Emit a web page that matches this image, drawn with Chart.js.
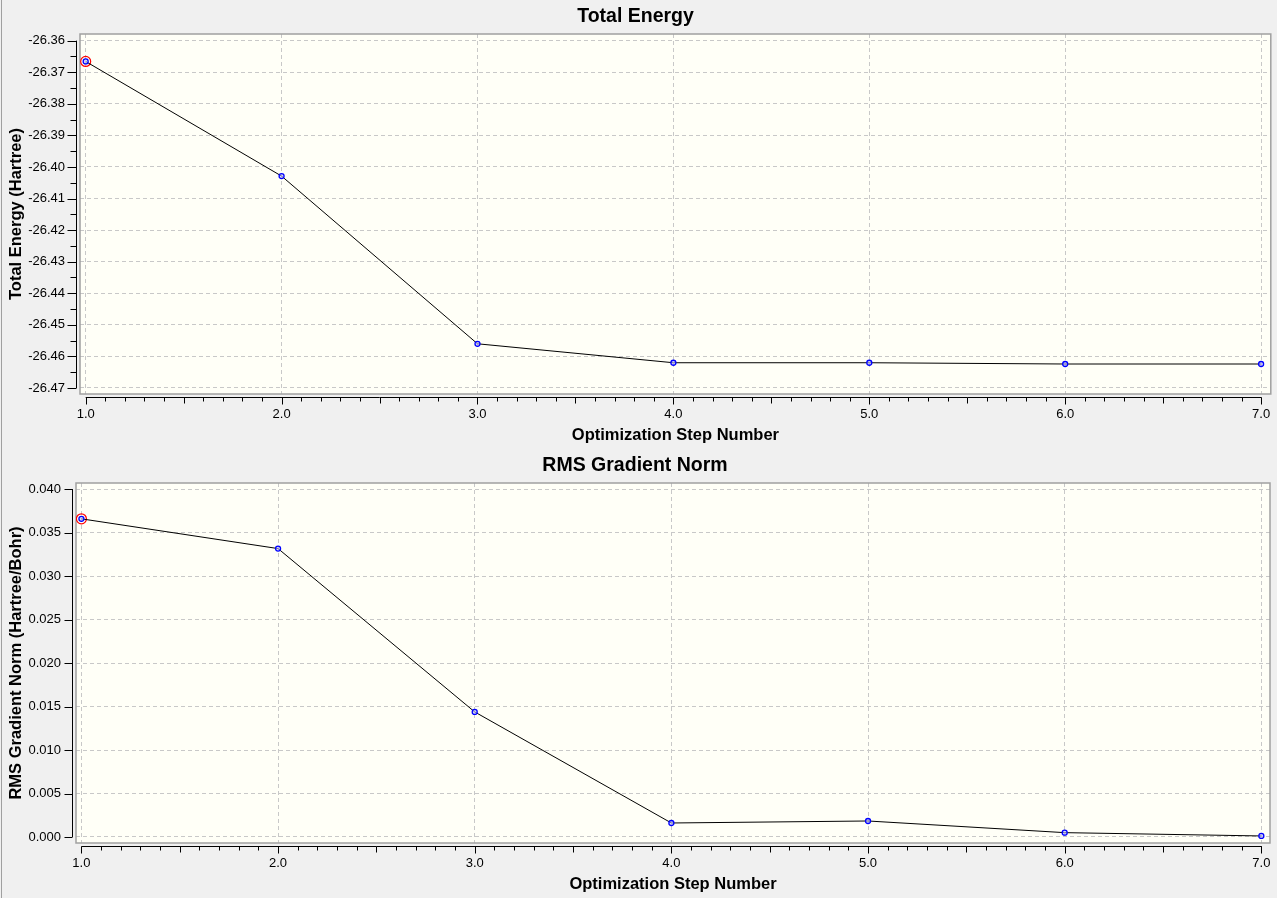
<!DOCTYPE html>
<html>
<head>
<meta charset="utf-8">
<script src="https://cdn.jsdelivr.net/npm/chart.js@4.4.1/dist/chart.umd.min.js"></script>
<style>
    html, body { margin: 0; padding: 0; background: #f0f0f0; }
    #wrap { position: relative; width: 1277px; height: 898px; overflow: hidden; }
    #edge { position: absolute; left: 1px; top: 0; width: 1px; height: 898px; background: #a0a0a0; }
    canvas { position: absolute; left: 0; }
    #energyChart { top: 0; }
    #gradientChart { top: 449px; }
</style>
</head>
<body>
<div id="wrap">
    <div id="edge"></div>
    <canvas id="energyChart" width="1277" height="449"></canvas>
    <canvas id="gradientChart" width="1277" height="449"></canvas>
</div>
<script>
const steps = [1, 2, 3, 4, 5, 6, 7];
const totalEnergy = [-26.3666, -26.4029, -26.4560, -26.4620, -26.4620, -26.4624, -26.4624];
const rmsGradient = [0.03658, 0.03316, 0.01438, 0.00161, 0.00184, 0.00050, 0.00012];
const energyTicks = [-26.47, -26.46, -26.45, -26.44, -26.43, -26.42, -26.41, -26.40, -26.39, -26.38, -26.37, -26.36];
const gradientTicks = [0.000, 0.005, 0.010, 0.015, 0.020, 0.025, 0.030, 0.035, 0.040];

const FONT = "'Liberation Sans', Arial, sans-serif";

// ivory plot area with a grey frame
const plotBox = {
    id: "plotBox",
    beforeDraw(chart) {
        const { ctx, chartArea: a } = chart;
        ctx.save();
        ctx.fillStyle = "#fffff7";
        ctx.fillRect(a.left, a.top, a.width, a.height);
        ctx.restore();
    },
    beforeDatasetsDraw(chart) {
        const { ctx, chartArea: a } = chart;
        ctx.save();
        ctx.strokeStyle = "#a0a0a0";
        ctx.lineWidth = 1.5;
        ctx.strokeRect(a.left, a.top, a.width, a.height);
        ctx.restore();
    },
};

// axis lines sit a few pixels outside the frame, with minor ticks
const axisLines = {
    id: "axisLines",
    afterDraw(chart, args, opts) {
        const { ctx, chartArea: a, scales: { x, y } } = chart;
        const xt = x.ticks.map((t) => t.value);
        const yt = y.ticks.map((t) => t.value);
        ctx.save();
        ctx.strokeStyle = "#000";
        ctx.lineWidth = 1;
        ctx.beginPath();

        const ay = Math.round(a.bottom + 3) + 0.5;
        ctx.moveTo(x.getPixelForValue(xt[0]), ay);
        ctx.lineTo(x.getPixelForValue(xt[xt.length - 1]) + 0.5, ay);
        const nx = Math.round((xt[xt.length - 1] - xt[0]) / 0.1);
        for (let i = 0; i <= nx; i++) {
            const px = Math.round(x.getPixelForValue(xt[0] + i * 0.1)) + 0.5;
            const len = i % 10 === 0 ? 7 : i % 5 === 0 ? 6 : 4;
            ctx.moveTo(px, ay);
            ctx.lineTo(px, ay + len);
        }

        const ax = Math.round(a.left - 3) - 0.5;
        ctx.moveTo(ax, y.getPixelForValue(yt[0]));
        ctx.lineTo(ax, y.getPixelForValue(yt[yt.length - 1]));
        for (const v of yt) {
            const py = Math.round(y.getPixelForValue(v)) + 0.5;
            ctx.moveTo(ax, py);
            ctx.lineTo(ax - opts.majorLen, py);
        }
        if (opts.yMinor) {
            for (let i = 0; i < yt.length - 1; i++) {
                const py = Math.round(y.getPixelForValue((yt[i] + yt[i + 1]) / 2)) + 0.5;
                ctx.moveTo(ax, py);
                ctx.lineTo(ax - 6, py);
            }
        }
        ctx.stroke();
        ctx.restore();
    },
};

function buildConfig({ title, yTitle, values, yTicks, decimals, xMin, xMax, yMin, yMax, yWidth, padRight, majorLen, yMinor }) {
    const points = steps.map((s, i) => ({ x: s, y: values[i] }));
    return {
        type: "line",
        data: {
            datasets: [
                {
                    data: points,
                    borderColor: "#000",
                    borderWidth: 1,
                    pointRadius: 2.5,
                    pointBorderWidth: 1.3,
                    pointBorderColor: "#0000ff",
                    pointBackgroundColor: "rgba(190,190,255,0.6)",
                    tension: 0,
                },
                {
                    // highlighted first step
                    data: [points[0]],
                    showLine: false,
                    pointRadius: 5,
                    pointBorderWidth: 1.2,
                    pointBorderColor: "#ff0000",
                    pointBackgroundColor: "rgba(0,0,0,0)",
                },
            ],
        },
        options: {
            responsive: false,
            animation: false,
            events: [],
            layout: { padding: { left: 0, right: padRight, top: 0, bottom: 0 } },
            plugins: {
                legend: { display: false },
                tooltip: { enabled: false },
                title: {
                    display: true,
                    text: title,
                    color: "#000",
                    font: { family: FONT, size: 19.5, weight: "bold" },
                    padding: { top: 5, bottom: 5.6 },
                },
                axisLines: { majorLen, yMinor },
            },
            scales: {
                x: {
                    type: "linear",
                    min: xMin,
                    max: xMax,
                    afterBuildTicks(scale) {
                        scale.ticks = steps.map((v) => ({ value: v }));
                    },
                    afterFit(scale) {
                        scale.height = 55;
                        scale.paddingLeft = 0;
                        scale.paddingRight = 0;
                    },
                    ticks: {
                        autoSkip: false,
                        maxRotation: 0,
                        padding: 13,
                        color: "#000",
                        font: { family: FONT, size: 13 },
                        callback: (v) => v.toFixed(1),
                    },
                    grid: { color: "#c8c8c8", lineWidth: 1, drawTicks: false },
                    border: { display: false, dash: [4, 3] },
                    title: {
                        display: true,
                        text: "Optimization Step Number",
                        color: "#000",
                        font: { family: FONT, size: 16.5, weight: "bold" },
                        padding: { top: 0, bottom: 4 },
                    },
                },
                y: {
                    type: "linear",
                    min: yMin,
                    max: yMax,
                    afterBuildTicks(scale) {
                        scale.ticks = yTicks.map((v) => ({ value: v }));
                    },
                    afterFit(scale) {
                        scale.width = yWidth;
                        scale.paddingTop = 0;
                        scale.paddingBottom = 0;
                    },
                    ticks: {
                        autoSkip: false,
                        padding: 15,
                        color: "#000",
                        font: { family: FONT, size: 13 },
                        callback: (v) => v.toFixed(decimals),
                    },
                    grid: { color: "#c8c8c8", lineWidth: 1, drawTicks: false },
                    border: { display: false, dash: [4, 3] },
                    title: {
                        display: true,
                        text: yTitle,
                        color: "#000",
                        font: { family: FONT, size: 16.5, weight: "bold" },
                        padding: { top: 7, bottom: 0 },
                    },
                },
            },
        },
        plugins: [plotBox, axisLines],
    };
}

function plotTotalEnergy() {
    const ctx = document.getElementById("energyChart").getContext("2d");
    new Chart(ctx, buildConfig({
        title: "Total Energy",
        yTitle: "Total Energy (Hartree)",
        values: totalEnergy,
        yTicks: energyTicks,
        decimals: 2,
        xMin: 0.971,
        xMax: 7.0495,
        yMin: -26.4719,
        yMax: -26.3579,
        yWidth: 80,
        padRight: 6,
        majorLen: 9,
        yMinor: true,
    }));
}

function plotGradientNorm() {
    const ctx = document.getElementById("gradientChart").getContext("2d");
    new Chart(ctx, buildConfig({
        title: "RMS Gradient Norm",
        yTitle: "RMS Gradient Norm (Hartree/Bohr)",
        values: rmsGradient,
        yTicks: gradientTicks,
        decimals: 3,
        xMin: 0.9725,
        xMax: 7.044,
        yMin: -0.00069,
        yMax: 0.0407,
        yWidth: 76,
        padRight: 7,
        majorLen: 8,
        yMinor: false,
    }));
}

plotTotalEnergy();
plotGradientNorm();
</script>
</body>
</html>
